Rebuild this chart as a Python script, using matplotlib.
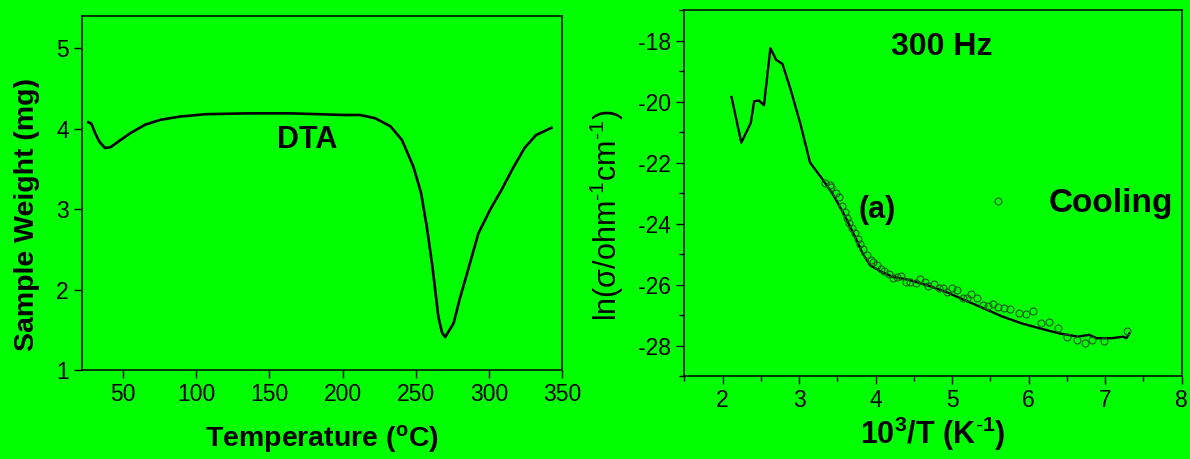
import matplotlib
matplotlib.use("Agg")
import matplotlib.pyplot as plt
from matplotlib.ticker import MultipleLocator

plt.rcParams['font.family'] = ['Liberation Sans', 'DejaVu Sans']
plt.rcParams['mathtext.fontset'] = 'custom'
plt.rcParams['mathtext.rm'] = 'Liberation Sans'
plt.rcParams['mathtext.it'] = 'Liberation Sans:italic'
plt.rcParams['mathtext.bf'] = 'Liberation Sans:bold'
plt.rcParams['mathtext.default'] = 'regular'
plt.rcParams['axes.unicode_minus'] = False

GREEN = '#00ff00'

# DTA curve (left panel)
dta_temp = [26.4, 28.5, 31.1, 33.8, 37.7, 41.6, 46.9, 54.7, 65.2, 75.7, 88.7, 107.0,
            135.9, 164.7, 201.3, 211.8, 222.3, 232.7, 240.6, 248.4, 253.7, 257.6,
            261.5, 265.5, 268.1, 270.2, 275.9, 279.9, 285.1, 292.9, 300.8, 308.7,
            316.5, 324.4, 332.2, 342.7]
dta_weight = [4.08, 4.06, 3.94, 3.84, 3.76, 3.77, 3.84, 3.94, 4.05, 4.11, 4.15, 4.18,
              4.19, 4.19, 4.17, 4.17, 4.13, 4.03, 3.86, 3.53, 3.20, 2.78,
              2.28, 1.66, 1.46, 1.41, 1.58, 1.87, 2.20, 2.70, 2.99, 3.24,
              3.51, 3.76, 3.92, 4.01]

# conductivity, line (right panel)
line_x = [2.118, 2.246, 2.37, 2.414, 2.478, 2.542, 2.626, 2.70, 2.784, 2.897, 3.02,
          3.144, 3.29, 3.44, 3.587, 3.735, 3.834, 3.93, 4.08, 4.228, 4.425, 4.672,
          4.918, 5.165, 5.411, 5.658, 5.905, 6.151, 6.398, 6.644, 6.792, 6.89,
          7.09, 7.236, 7.28, 7.32]
line_y = [-19.85, -21.35, -20.70, -19.99, -19.97, -20.12, -18.25, -18.63, -18.77,
          -19.66, -20.75, -22.0, -22.49, -23.03, -23.69, -24.45, -24.99, -25.37,
          -25.59, -25.75, -25.84, -26.02, -26.24, -26.51, -26.78, -27.05, -27.27,
          -27.44, -27.6, -27.71, -27.65, -27.76, -27.76, -27.71, -27.76, -27.6]

# conductivity, open circles
pts_x = [3.344, 3.406, 3.42, 3.485, 3.52, 3.563, 3.607, 3.628, 3.659, 3.694, 3.733,
         3.768, 3.803, 3.842, 3.886, 3.938, 3.973, 4.022, 4.074, 4.117, 4.174, 4.226,
         4.279, 4.336, 4.393, 4.454, 4.524, 4.585, 4.641, 4.685, 4.76, 4.83, 4.881,
         4.94, 5.004, 5.07, 5.144, 5.196, 5.253, 5.327, 5.406, 5.471, 5.537, 5.602,
         5.677, 5.756, 5.877, 5.965, 6.053, 6.158, 6.27, 6.388, 6.498, 6.63, 6.738,
         6.826, 6.98, 7.285, 5.6]
pts_y = [-22.68, -22.74, -22.8, -23.01, -23.14, -23.41, -23.61, -23.83, -23.99,
         -24.15, -24.31, -24.5, -24.66, -24.85, -25.02, -25.18, -25.26, -25.37,
         -25.48, -25.55, -25.66, -25.78, -25.75, -25.72, -25.91, -25.91, -25.96,
         -25.82, -25.91, -26.05, -25.99, -26.13, -26.13, -26.24, -26.11, -26.18,
         -26.43, -26.43, -26.31, -26.43, -26.67, -26.7, -26.65, -26.73, -26.78,
         -26.81, -26.92, -26.97, -26.88, -27.25, -27.23, -27.41, -27.73, -27.81,
         -27.92, -27.81, -27.84, -27.52, -23.25]

fig = plt.figure(figsize=(11.9, 4.59), dpi=100, facecolor=GREEN)
ax1 = fig.add_axes([0.0689, 0.1939, 0.4034, 0.7712], facecolor=GREEN)
ax2 = fig.add_axes([0.5750, 0.1808, 0.4179, 0.7974], facecolor=GREEN)

# left panel
ax1.plot(dta_temp, dta_weight, color='black', lw=1.9)
ax1.set_xlim(22, 350)
ax1.set_ylim(1, 5.4)
ax1.set_xticks([50, 100, 150, 200, 250, 300, 350])
ax1.set_yticks([1, 2, 3, 4, 5])
ax1.tick_params(direction='out', length=6, width=1, labelsize=16.5)
ax1.set_xlabel(r'Temperature ($^{o}$C)', fontsize=20.5, fontweight='bold', labelpad=12)
ax1.set_ylabel('Sample Weight (mg)', fontsize=20.5, fontweight='bold')
ax1.yaxis.set_label_coords(-0.088, 0.44)
ax1.text(176, 3.86, 'DTA', fontsize=22, fontweight='bold', ha='center', va='center')

# right panel
ax2.plot(line_x, line_y, color='black', lw=1.7)
ax2.plot(pts_x, pts_y, 'o', ms=5, mfc='none', mec='#1f5a1f', mew=0.8)
ax2.set_xlim(1.5, 8)
ax2.set_ylim(-29, -17)
ax2.xaxis.set_major_locator(MultipleLocator(1))
ax2.xaxis.set_minor_locator(MultipleLocator(0.5))
ax2.set_yticks([-18, -20, -22, -24, -26, -28])
ax2.yaxis.set_minor_locator(MultipleLocator(1))
ax2.tick_params(which='major', direction='out', length=6, width=1, labelsize=16.5)
ax2.tick_params(which='minor', direction='out', length=3.5, width=1)
ax2.set_xlabel(r'10$^{3}$/T (K$^{\text{-}1}$)', fontsize=22, fontweight='bold', labelpad=2)
ax2.set_ylabel(r'ln(σ/ohm$^{\text{-}1}$cm$^{\text{-}1}$)', fontsize=22)
ax2.yaxis.set_label_coords(-0.117, 0.44)
ax2.text(4.86, -18.2, '300 Hz', fontsize=23, fontweight='bold', ha='center', va='center')
ax2.text(4.02, -23.57, '(a)', fontsize=22, fontweight='bold', ha='center', va='center')
ax2.text(7.07, -23.35, 'Cooling', fontsize=24, fontweight='bold', ha='center', va='center')

for ax in (ax1, ax2):
    for s in ax.spines.values():
        s.set_linewidth(1.1)

fig.savefig('out.png', dpi=100, facecolor=GREEN)
